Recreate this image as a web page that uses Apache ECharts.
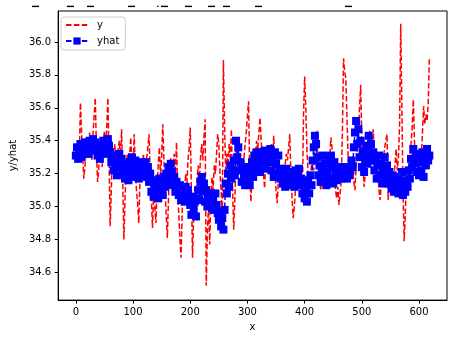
<!DOCTYPE html>
<html><head><meta charset="utf-8">
<script src="https://cdn.jsdelivr.net/npm/echarts@6/dist/echarts.min.js"></script>
<style>html,body{margin:0;padding:0;background:#fff}#c{width:452px;height:337px}</style>
</head><body><div id="c"></div>
<script>
// x positions: start 0, one sample every 2 units
const xStart = 0;
const xStep = 2;

const yValues = [
35.30,35.33,35.40,35.28,35.63,35.45,35.30,35.17,35.25,35.35,
35.42,35.30,35.45,35.38,35.28,35.44,35.55,35.66,35.35,35.15,
35.22,35.38,35.30,35.24,35.40,35.46,35.32,35.48,35.66,35.30,
34.88,35.10,35.32,35.22,35.38,35.30,35.20,35.34,35.40,35.28,
35.47,35.15,34.80,35.05,35.25,35.32,35.18,35.30,35.42,35.26,
35.20,35.44,35.22,35.10,35.02,34.90,35.15,35.28,35.20,35.32,
35.25,35.18,35.30,35.36,35.44,35.20,35.05,34.87,35.08,35.00,
34.90,35.12,35.25,35.36,35.18,35.30,35.50,35.28,35.10,34.95,
34.81,35.05,35.22,35.30,35.18,35.26,35.32,35.20,35.39,35.10,
34.95,34.80,34.69,34.98,35.15,35.08,35.20,35.12,35.28,35.35,
35.48,35.10,34.69,34.95,35.12,35.05,35.18,35.25,35.15,35.30,
35.38,35.28,35.42,35.53,34.52,34.85,35.00,34.77,35.05,35.18,
35.10,35.25,35.20,35.32,35.44,35.38,35.20,35.10,34.90,35.89,
35.50,35.20,35.32,35.25,35.38,35.30,35.47,35.10,34.86,35.05,
35.25,35.35,35.28,35.20,35.32,35.25,35.15,35.30,35.38,35.45,
35.55,35.64,35.20,35.03,35.18,35.35,35.26,35.32,35.40,35.34,
35.45,35.54,35.40,35.30,35.20,35.11,35.28,35.35,35.30,35.36,
35.32,35.38,35.30,35.43,35.22,35.10,35.02,35.15,35.25,35.20,
35.15,35.22,35.18,35.26,35.32,35.28,35.36,35.44,35.20,35.05,
34.93,35.00,35.10,35.18,35.12,35.20,35.15,35.25,35.05,35.55,
35.79,35.60,35.35,35.20,35.10,35.18,35.25,35.30,35.22,35.38,
35.42,35.46,35.30,35.18,35.10,35.16,35.25,35.20,35.28,35.22,
35.18,35.15,35.30,35.42,35.35,35.25,35.18,35.10,35.05,35.12,
35.01,35.08,35.15,35.45,35.90,35.82,35.78,35.55,35.30,35.22,
35.18,35.28,35.22,35.15,35.10,35.25,35.35,35.45,35.60,35.74,
35.40,35.25,35.12,35.20,35.28,35.32,35.40,35.46,35.30,35.35,
35.47,35.28,35.20,35.15,35.22,35.10,35.04,35.15,35.25,35.30,
35.36,35.40,35.44,35.04,35.15,35.22,35.18,35.12,35.20,35.25,
35.35,35.22,35.30,35.50,36.11,35.60,35.10,34.79,34.95,35.20,
35.07,35.22,35.30,35.38,35.48,35.65,35.40,35.25,35.18,35.30,
35.26,35.35,35.30,35.45,35.61,35.50,35.56,35.52,35.62,35.90
];

const yhatValues = [
35.31,35.36,35.29,35.34,35.38,35.30,35.36,35.33,35.39,35.34,
35.37,35.32,35.40,35.35,35.38,35.41,35.34,35.39,35.36,35.31,
35.34,35.29,35.37,35.33,35.40,35.35,35.38,35.32,35.41,35.37,
35.33,35.27,35.31,35.22,35.29,35.25,35.19,35.28,35.32,35.24,
35.29,35.21,35.26,35.17,35.23,35.19,35.16,35.27,35.22,35.30,
35.24,35.18,35.28,35.21,35.26,35.17,35.23,35.27,35.19,35.25,
35.22,35.27,35.18,35.24,35.15,35.20,35.09,35.16,35.06,35.12,
35.08,35.14,35.05,35.17,35.10,35.15,35.07,35.18,35.12,35.20,
35.15,35.24,35.19,35.26,35.21,35.13,35.18,35.09,35.15,35.11,
35.07,35.13,35.04,35.11,35.08,35.03,35.12,35.06,35.10,35.04,
35.01,34.95,35.06,34.98,35.03,34.94,35.05,35.10,35.04,35.15,
35.18,35.09,35.14,35.03,35.10,35.00,35.06,35.02,35.08,34.99,
35.05,34.98,35.08,35.01,34.96,34.92,34.97,34.88,34.93,34.86,
34.98,35.14,35.08,35.20,35.12,35.25,35.17,35.22,35.28,35.19,
35.40,35.30,35.36,35.22,35.27,35.15,35.24,35.18,35.13,35.21,
35.16,35.24,35.13,35.20,35.27,35.18,35.31,35.22,35.33,35.26,
35.30,35.21,35.33,35.25,35.29,35.34,35.23,35.31,35.27,35.33,
35.35,35.22,35.30,35.18,35.33,35.26,35.20,35.31,35.23,35.17,
35.22,35.14,35.19,35.12,35.23,35.16,35.20,35.13,35.21,35.15,
35.19,35.12,35.22,35.14,35.18,35.23,35.13,35.17,35.08,35.14,
35.05,35.12,35.03,35.16,35.08,35.19,35.13,35.28,35.36,35.43,
35.38,35.30,35.19,35.25,35.15,35.22,35.31,35.18,35.26,35.13,
35.21,35.29,35.17,35.31,35.24,35.14,35.27,35.20,35.16,35.23,
35.19,35.24,35.17,35.22,35.18,35.24,35.20,35.17,35.23,35.19,
35.22,35.28,35.24,35.36,35.45,35.52,35.38,35.47,35.30,35.40,
35.24,35.33,35.21,35.29,35.37,35.26,35.43,35.32,35.38,35.28,
35.33,35.22,35.28,35.17,35.25,35.31,35.19,35.26,35.14,35.22,
35.30,35.18,35.25,35.14,35.21,35.16,35.11,35.19,35.09,35.15,
35.12,35.18,35.08,35.15,35.10,35.21,35.07,35.13,35.09,35.16,
35.12,35.22,35.17,35.29,35.24,35.35,35.27,35.32,35.21,35.30,
35.19,35.27,35.22,35.33,35.18,35.29,35.25,35.35,35.28,35.31
];

const xTicks = [0, 100, 200, 300, 400, 500, 600];
const yTicks = [34.6, 34.8, 35.0, 35.2, 35.4, 35.6, 35.8, 36.0];
const seriesNames = ['y', 'yhat'];
const axisNames = ['x', 'y/yhat'];

const toPairs = arr => arr.map((v, i) => [xStart + i * xStep, v]);

// clipped title remnants at the very top of the figure
const topMarks = [[32,7],[67,7],[87,7],[128,7],[157,1.5],[161,7],[185,7],[208,7],[223,7],[255,7],[345,7]];

const chart = echarts.init(document.getElementById('c'), null, {renderer: 'canvas'});
const FONT = 'DejaVu Sans';
chart.setOption({
  animation: false,
  backgroundColor: '#fff',
  textStyle: {fontFamily: FONT},
  graphic: topMarks.map(m => ({type: 'rect', shape: {x: m[0], y: 5.7, width: m[1], height: 1.4}, style: {fill: '#000'}})),
  grid: {left: 56, right: 5, top: 11, bottom: 35, show: true, borderColor: '#000', borderWidth: 1, backgroundColor: 'transparent'},
  legend: {
    data: [
      {name: seriesNames[0], itemStyle: {opacity: 0}},
      {name: seriesNames[1]}
    ],
    orient: 'vertical', left: 61, top: 17,
    itemWidth: 22, itemHeight: 9, itemGap: 6,
    padding: [3, 6, 4, 4],
    borderColor: '#cccccc', borderWidth: 1, borderRadius: 3,
    backgroundColor: 'rgba(255,255,255,0.8)',
    textStyle: {fontSize: 10, color: '#000', fontFamily: FONT, padding: [0, 0, 0, 4]}
  },
  xAxis: {
    type: 'value', min: -30.9, max: 648.9,
    name: axisNames[0], nameLocation: 'middle', nameGap: 21,
    nameTextStyle: {fontSize: 10, color: '#000', fontFamily: FONT},
    axisLine: {show: true, onZero: false, lineStyle: {color: '#000', width: 1}},
    axisTick: {show: true, length: 3.5, lineStyle: {color: '#000'}, customValues: xTicks},
    axisLabel: {fontSize: 10, color: '#000', margin: 7, customValues: xTicks, fontFamily: FONT},
    splitLine: {show: false}
  },
  yAxis: {
    type: 'value', min: 34.432, max: 36.188,
    name: axisNames[1], nameLocation: 'middle', nameGap: 38, nameRotate: 90,
    nameTextStyle: {fontSize: 10, color: '#000', fontFamily: FONT},
    axisLine: {show: true, onZero: false, lineStyle: {color: '#000', width: 1}},
    axisTick: {show: true, length: 3.5, lineStyle: {color: '#000'}, customValues: yTicks},
    axisLabel: {fontSize: 10, color: '#000', margin: 7, customValues: yTicks, fontFamily: FONT,
      formatter: v => v.toFixed(1)},
    splitLine: {show: false}
  },
  series: [
    {
      name: seriesNames[0], type: 'line', data: toPairs(yValues),
      symbol: 'none', z: 2,
      itemStyle: {color: '#ff0000'},
      lineStyle: {color: '#ff0000', width: 1.5, type: [5.5, 2.4]}
    },
    {
      name: seriesNames[1], type: 'line', data: toPairs(yhatValues),
      symbol: 'rect', symbolSize: 8, showSymbol: true, showAllSymbol: true, z: 3,
      itemStyle: {color: '#0000ff'},
      lineStyle: {color: '#0000ff', width: 1.5, type: [5.5, 2.4]}
    }
  ]
});
</script></body></html>
